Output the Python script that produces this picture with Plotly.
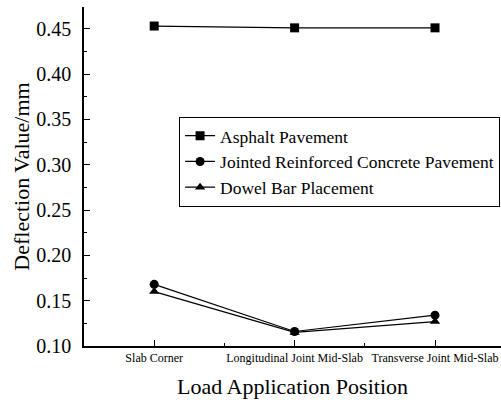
import plotly.graph_objects as go

positions = ["Slab Corner", "Longitudinal Joint Mid-Slab", "Transverse Joint Mid-Slab"]
asphalt = [0.453, 0.451, 0.451]
jrcp = [0.168, 0.116, 0.134]
dowel = [0.160, 0.115, 0.127]
series_names = ["Asphalt Pavement", "Jointed Reinforced Concrete Pavement", "Dowel Bar Placement"]
y_ticks = [0.10, 0.15, 0.20, 0.25, 0.30, 0.35, 0.40, 0.45]

xs = list(range(1, len(positions) + 1))
FONT = "Liberation Serif"

fig = go.Figure()
for name, vals, sym in zip(series_names, [asphalt, jrcp, dowel], ["square", "circle", "triangle-up"]):
    fig.add_trace(go.Scatter(
        x=xs, y=vals, name=name, mode="lines+markers",
        line=dict(color="black", width=1.2),
        marker=dict(symbol=sym, size=9, color="black"),
    ))

fig.update_layout(
    width=501, height=402,
    margin=dict(l=84, r=0, t=7, b=56, autoexpand=False),
    paper_bgcolor="white", plot_bgcolor="white",
    font=dict(family=FONT, color="black"),
    showlegend=True,
    legend=dict(
        x=0.228, y=0.676, xanchor="left", yanchor="top",
        bgcolor="white", bordercolor="black", borderwidth=1,
        font=dict(size=17.5, family=FONT), itemwidth=30,
        tracegroupgap=0,
    ),
    xaxis=dict(
        range=[0.5, 3.47], autorange=False, tickmode="array", tickvals=xs, ticktext=positions,
        tickangle=0, automargin=False,
        ticks="inside", ticklen=6, tickwidth=1.2, tickcolor="black",
        minor=dict(tickvals=[1.5, 2.5], ticks="inside", ticklen=3, tickwidth=1.2, tickcolor="black"),
        showline=True, linecolor="black", linewidth=1.5, showgrid=False, zeroline=False,
        tickfont=dict(size=12, family=FONT),
        title=dict(text="Load Application Position", font=dict(size=22, family=FONT), standoff=14),
    ),
    yaxis=dict(
        range=[0.1, 0.474], autorange=False, tickmode="array", tickvals=y_ticks,
        ticktext=[f"{v:.2f}" for v in y_ticks],
        ticks="inside", ticklen=6, tickwidth=1.2, tickcolor="black", automargin=False,
        ticklabelstandoff=7,
        minor=dict(dtick=0.025, tick0=0.1, ticks="inside", ticklen=3, tickwidth=1.2, tickcolor="black"),
        showline=True, linecolor="black", linewidth=1.5, showgrid=False, zeroline=False,
        tickfont=dict(size=20, family=FONT),
        title=dict(text="Deflection Value/mm", font=dict(size=22, family=FONT), standoff=1),
    ),
)

fig.write_html("out.html")
